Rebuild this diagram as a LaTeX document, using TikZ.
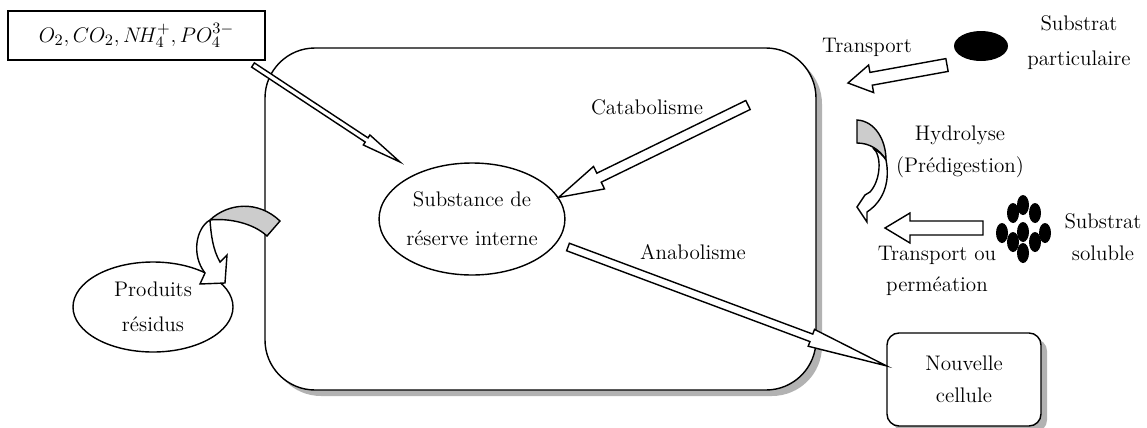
\documentclass[tikz,border=0pt]{standalone}
\usepackage{tikz}
\usetikzlibrary{calc,shapes.geometric,shadows}

% hollow block arrow: tail, tip, half shaft, half head, head length
\newcommand{\hollowarrow}[5]{%
  \draw[line width=0.8pt, fill=white] let \p1=($(#2)-(#1)$), \n1={atan2(\y1,\x1)} in
    ($(#1)+(\n1+90:#3)$) -- ($(#2)+(\n1+180:#5)+(\n1+90:#3)$)
    -- ($(#2)+(\n1+180:#5)+(\n1+90:#4)$) -- (#2)
    -- ($(#2)+(\n1+180:#5)+(\n1-90:#4)$) -- ($(#2)+(\n1+180:#5)+(\n1-90:#3)$)
    -- ($(#1)+(\n1-90:#3)$) -- cycle;}

\begin{document}
\begin{tikzpicture}[
  every node/.style={font=\fontsize{12}{18}\selectfont, align=center},
  shade/.style={drop shadow={shadow xshift=0.12cm, shadow yshift=-0.12cm, fill=gray!60, opacity=1}},
  blob/.style={draw, line width=0.8pt, ellipse, inner sep=0pt}]

  \useasboundingbox (0,0) rectangle (22.94,-8.54);

  % cell
  \node [draw, line width=0.8pt, rounded corners=1cm, fill=white, shade,
         minimum width=11.02cm, minimum height=6.84cm] (cell) at (10.81,-4.38) {};

  % formula box
  \node [draw, line width=0.8pt, minimum width=5.14cm, minimum height=0.98cm,
         font=\fontsize{13}{18}\selectfont] (formula) at (2.73,-0.71)
        {$O_2, CO_2, N\!H_4^+, PO_4^{3-}$};

  % reserve
  \node [blob, minimum width=3.68cm, minimum height=2.24cm] (subst) at (9.44,-4.38)
        {Substance de\\[4pt] réserve interne};

  % residues
  \node [blob, minimum width=3.2cm, minimum height=1.8cm] (residus) at (3.06,-6.14)
        {Produits\\[2pt] résidus};

  % new cell
  \node [draw, line width=0.8pt, rounded corners=0.24cm, fill=white, shade,
         minimum width=3.08cm, minimum height=1.86cm] (newcell) at (19.28,-7.59)
        {Nouvelle\\ cellule};

  % substrates
  \node [fill, ellipse, minimum width=1.08cm, minimum height=0.6cm, inner sep=0pt] (partic) at (19.62,-0.92) {};
  \node (lpartic) at (21.58,-0.85) {Substrat\\[2pt] particulaire};
  \foreach \x/\y in {20.46/-4.10, 20.26/-4.26, 20.70/-4.26, 20.04/-4.66, 20.46/-4.64,
                     20.90/-4.66, 20.26/-4.84, 20.70/-4.84, 20.46/-5.06}
    \fill (\x,\y) ellipse [x radius=0.12, y radius=0.2];
  \node (lsoluble) at (22.06,-4.74) {Substrat\\ soluble};

  % labels
  \node (ltransp) at (17.34,-0.94) {Transport};
  \node (lcata) at (12.94,-2.14) {Catabolisme};
  \node (lana) at (13.86,-5.04) {Anabolisme};
  \node (lhydro) at (19.2,-3.04) {Hydrolyse\\ (Prédigestion)};
  \node (lperm) at (18.74,-5.42) {Transport ou\\ perméation};

  % arrow ends
  \coordinate (in-tail) at (5.06,-1.30);
  \coordinate (in-tip) at (8.00,-3.24);
  \coordinate (cata-tail) at (14.96,-2.10);
  \coordinate (ana-tail) at (11.36,-4.94);
  \coordinate (tp-tail) at (18.94,-1.30);
  \coordinate (tp-tip) at (16.96,-1.66);
  \coordinate (ts-tail) at (19.66,-4.56);
  \coordinate (ts-tip) at (17.70,-4.56);

  % block arrows
  \hollowarrow{in-tail}{in-tip}{0.05}{0.12}{0.8}
  \hollowarrow{cata-tail}{subst.14}{0.1}{0.25}{0.9}
  \hollowarrow{ana-tail}{newcell.170}{0.08}{0.18}{1.6}
  \hollowarrow{tp-tail}{tp-tip}{0.13}{0.28}{0.47}
  \hollowarrow{ts-tail}{ts-tip}{0.14}{0.3}{0.5}

  % curved arrow to residues
  \draw [line width=0.8pt, fill=gray!40] (4.20,-4.40) .. controls (4.56,-4.06) and (5.16,-4.00) .. (5.60,-4.42)
        -- (5.34,-4.72) .. controls (5.05,-4.45) and (4.55,-4.36) .. (4.20,-4.40);
  \draw [line width=0.8pt, fill=white] (4.20,-4.40) .. controls (3.92,-4.56) and (3.82,-5.10) .. (4.10,-5.46)
        -- (4.00,-5.68) -- (4.50,-5.66) -- (4.54,-5.10) -- (4.40,-5.24)
        .. controls (4.26,-5.00) and (4.22,-4.70) .. (4.20,-4.40);

  % curved arrow hydrolysis
  \draw [line width=0.8pt, fill=gray!40] (17.14,-2.40) .. controls (17.50,-2.42) and (17.72,-2.80) .. (17.72,-3.20)
        .. controls (17.60,-3.00) and (17.40,-2.86) .. (17.14,-2.86) -- cycle;
  \draw [line width=0.8pt, fill=white] (17.46,-2.96) .. controls (17.64,-3.10) and (17.62,-3.60) .. (17.40,-3.84)
        -- (17.30,-3.90) -- (17.14,-4.14) -- (17.34,-4.44) -- (17.34,-4.24)
        .. controls (17.70,-4.00) and (17.80,-3.60) .. (17.72,-3.20)
        .. controls (17.66,-3.10) and (17.56,-3.02) .. (17.46,-2.96);

\end{tikzpicture}
\end{document}
